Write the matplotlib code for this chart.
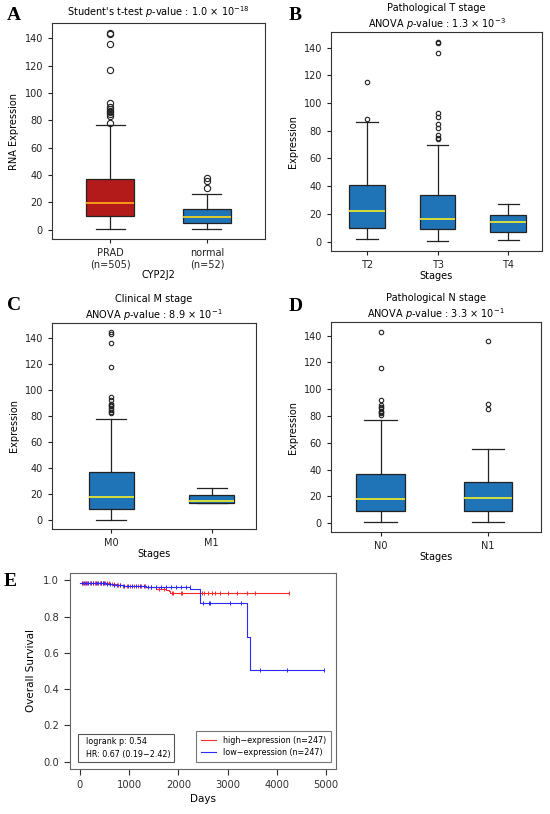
import matplotlib
matplotlib.use('Agg')
import matplotlib.pyplot as plt
from matplotlib.patches import Rectangle
import numpy as np

plt.rcParams['font.family'] = ['DejaVu Sans']
plt.rcParams['font.size'] = 7

# # Panel A : tumour vs normal
a_labels = ['PRAD\n(n=505)', 'normal\n(n=52)']
a_q1 = [10.0, 5.0]
a_med = [19.5, 9.5]
a_q3 = [37.0, 15.0]
a_lo = [0.5, 0.5]
a_hi = [76.5, 26.0]
a_fliers = [[78, 83, 85, 86, 87, 88, 90, 93, 117, 136, 143, 144],
            [30.5, 35.5, 38]]

# # Panel B : T stage
b_labels = ['T2', 'T3', 'T4']
b_q1 = [10.0, 9.0, 7.0]
b_med = [22.0, 16.5, 14.0]
b_q3 = [41.0, 34.0, 19.0]
b_lo = [2.0, 0.5, 1.5]
b_hi = [86.0, 70.0, 27.0]
b_fliers = [[88.5, 115],
            [74, 75, 77, 82, 85, 90, 93, 136, 143, 144],
            []]

# # Panel C : M stage
c_labels = ['M0', 'M1']
c_q1 = [8.5, 12.5]
c_med = [17.5, 14.0]
c_q3 = [37.0, 19.0]
c_lo = [0.0, 12.5]
c_hi = [77.5, 24.5]
c_fliers = [[82, 83, 84, 86, 87, 88, 89, 92, 94, 117, 136, 143, 144], []]

# # Panel D : N stage
d_labels = ['N0', 'N1']
d_q1 = [9.0, 9.0]
d_med = [18.0, 18.5]
d_q3 = [37.0, 30.5]
d_lo = [0.5, 1.0]
d_hi = [77.0, 55.0]
d_fliers = [[81, 82, 83, 84, 86, 87, 88, 92, 116, 143], [85, 89, 136]]

# # Panel E : Kaplan-Meier, event times and survival after each event
high_t = [0, 610, 740, 875, 1340, 1540, 1740, 1810, 1840]
high_s = [0.987, 0.982, 0.975, 0.970, 0.963, 0.953, 0.946, 0.940, 0.932]
high_end = 4250
high_censor = [60, 110, 150, 200, 260, 300, 350, 400, 430, 470, 520, 560, 600, 650,
               700, 780, 820, 880, 950, 1020, 1100, 1180, 1250, 1320, 1450, 1600,
               1700, 1880, 1900, 2050, 2080, 2430, 2470, 2530, 2600, 2680, 2750,
               2850, 3000, 3200, 3400, 3550, 4250]
low_t = [0, 540, 675, 875, 1340, 2243, 2443, 3398, 3445]
low_s = [0.987, 0.982, 0.975, 0.970, 0.963, 0.950, 0.877, 0.688, 0.508]
low_end = 4950
low_censor = [50, 90, 130, 170, 220, 270, 320, 370, 420, 460, 500, 560, 620, 690,
              750, 820, 900, 980, 1050, 1150, 1230, 1300, 1380, 1450, 1550, 1650,
              1750, 1850, 1950, 2050, 2150, 2230, 2500, 2630, 2640, 3050, 3270,
              3650, 4200, 4950]

RED = '#b31b1b'
BLUE = '#1f73b7'
W, H = 550.0, 814.0


def px_axes(fig, left, right, top, bottom):
    # axes from pixel edges
    return fig.add_axes([left / W, 1 - bottom / H, (right - left) / W, (bottom - top) / H])


def make_stats(q1, med, q3, lo, hi, fliers):
    out = []
    for i in range(len(med)):
        out.append(dict(q1=q1[i], med=med[i], q3=q3[i], whislo=lo[i], whishi=hi[i],
                        fliers=fliers[i]))
    return out


def draw_box(ax, stats, colors, medcol, width, msize):
    pos = np.arange(1, len(stats) + 1)
    bp = ax.bxp(stats, positions=pos, widths=width, capwidths=0.3, patch_artist=True,
                showfliers=True,
                boxprops=dict(edgecolor='#222222', linewidth=0.9),
                whiskerprops=dict(color='#222222', linewidth=0.9),
                capprops=dict(color='#222222', linewidth=0.9),
                medianprops=dict(color=medcol, linewidth=1.3),
                flierprops=dict(marker='o', markerfacecolor='none',
                                markeredgecolor='#222222', markersize=msize,
                                markeredgewidth=0.8))
    for patch, c in zip(bp['boxes'], colors):
        patch.set_facecolor(c)
    for i, m in enumerate(bp['medians']):
        if colors[i] == RED:
            m.set_color('#ffa31a')
    for s in ax.spines.values():
        s.set_color('#333333')
    ax.tick_params(length=3, width=0.8, labelsize=7, colors='#222222')
    ax.set_yticks(np.arange(0, 141, 20))
    ax.set_xticks(pos)
    return bp


fig = plt.figure(figsize=(5.5, 8.14), dpi=100)

# A
axA = px_axes(fig, 52, 265, 23, 239)
draw_box(axA, make_stats(a_q1, a_med, a_q3, a_lo, a_hi, a_fliers), [RED, BLUE],
         '#f0d020', 0.5, 4.5)
axA.set_xticklabels(a_labels)
axA.set_xlim(0.4, 2.6)
axA.set_ylabel('RNA Expression', fontsize=7)
axA.set_xlabel('CYP2J2', fontsize=7, labelpad=0)
axA.set_title("Student's t-test $p$-value : 1.0 $\\times$ $10^{-18}$", fontsize=7, pad=5)

# B
axB = px_axes(fig, 331, 542, 32, 251)
draw_box(axB, make_stats(b_q1, b_med, b_q3, b_lo, b_hi, b_fliers), [BLUE] * 3,
         '#e6e635', 0.5, 3.2)
axB.set_xticklabels(b_labels)
axB.set_xlim(0.49, 3.48)
axB.set_ylabel('Expression', fontsize=7)
axB.set_xlabel('Stages', fontsize=7, labelpad=1)
axB.set_title("Pathological T stage\nANOVA $p$-value : 1.3 $\\times$ $10^{-3}$",
              fontsize=7, pad=3, linespacing=1.25)

# C
axC = px_axes(fig, 52, 256, 323, 529)
draw_box(axC, make_stats(c_q1, c_med, c_q3, c_lo, c_hi, c_fliers), [BLUE] * 2,
         '#e6e635', 0.45, 3.2)
axC.set_xticklabels(c_labels)
axC.set_xlim(0.41, 2.44)
axC.set_ylabel('Expression', fontsize=7)
axC.set_xlabel('Stages', fontsize=7, labelpad=1)
axC.set_title("Clinical M stage\nANOVA $p$-value : 8.9 $\\times$ $10^{-1}$",
              fontsize=7, pad=3, linespacing=1.25)

# D
axD = px_axes(fig, 331, 541, 322, 532)
draw_box(axD, make_stats(d_q1, d_med, d_q3, d_lo, d_hi, d_fliers), [BLUE] * 2,
         '#e6e635', 0.45, 3.2)
axD.set_xticklabels(d_labels)
axD.set_xlim(0.54, 2.49)
axD.set_ylabel('Expression', fontsize=7)
axD.set_xlabel('Stages', fontsize=7, labelpad=1)
axD.set_title("Pathological N stage\nANOVA $p$-value : 3.3 $\\times$ $10^{-1}$",
              fontsize=7, pad=3, linespacing=1.25)

# E : Kaplan-Meier
axE = px_axes(fig, 70, 336, 573, 769)
for t, s, end, cens, col, lab in [(high_t, high_s, high_end, high_censor, '#ff2a2a',
                                   'high\u2212expression (n=247)'),
                                  (low_t, low_s, low_end, low_censor, '#2a2aff',
                                   'low\u2212expression (n=247)')]:
    tt = list(t) + [end]
    ss = list(s) + [s[-1]]
    axE.step(tt, ss, where='post', color=col, linewidth=0.8, label=lab)
    idx = np.searchsorted(t, cens, side='right') - 1
    axE.plot(cens, np.array(s)[idx], linestyle='none', marker='|', color=col,
             markersize=3.5, markeredgewidth=0.7)
axE.set_xlim(-200, 5200)
axE.set_ylim(-0.04, 1.04)
axE.set_xticks(np.arange(0, 5001, 1000))
axE.set_yticks(np.arange(0, 1.01, 0.2))
axE.set_yticklabels(['%.1f' % v for v in np.arange(0, 1.01, 0.2)])
axE.set_xlabel('Days', fontsize=7.5, labelpad=3)
axE.set_ylabel('Overall Survival', fontsize=7.5, labelpad=5)
for sp in axE.spines.values():
    sp.set_color('#666666')
axE.tick_params(length=4, width=0.8, labelsize=7.2, colors='#333333', pad=4)
leg = axE.legend(loc='lower right', fontsize=5.8, frameon=True, fancybox=False,
                 edgecolor='#555555', handlelength=1.8, borderpad=0.6,
                 labelspacing=0.4, handletextpad=0.9, borderaxespad=0.0,
                 bbox_to_anchor=(0.981, 0.036))
leg.get_frame().set_linewidth(0.8)
axE.add_patch(Rectangle((0.03, 0.036), 0.36, 0.143, transform=axE.transAxes,
                        facecolor='white', edgecolor='#555555', linewidth=0.8, zorder=5))
axE.text(0.06, 0.107, 'logrank p: 0.54\nHR: 0.67 (0.19\u22122.42)',
         transform=axE.transAxes, fontsize=5.8, va='center', ha='left',
         linespacing=1.45, zorder=6)

# panel letters
for lab, x, y in [('A', 7, 15), ('B', 289, 15), ('C', 7, 305),
                  ('D', 289, 306), ('E', 4, 581)]:
    fig.text(x / W, 1 - y / H, lab, fontsize=14, fontweight='bold',
             family='Liberation Serif', va='center', ha='left')

fig.savefig('out.png', dpi=100)
